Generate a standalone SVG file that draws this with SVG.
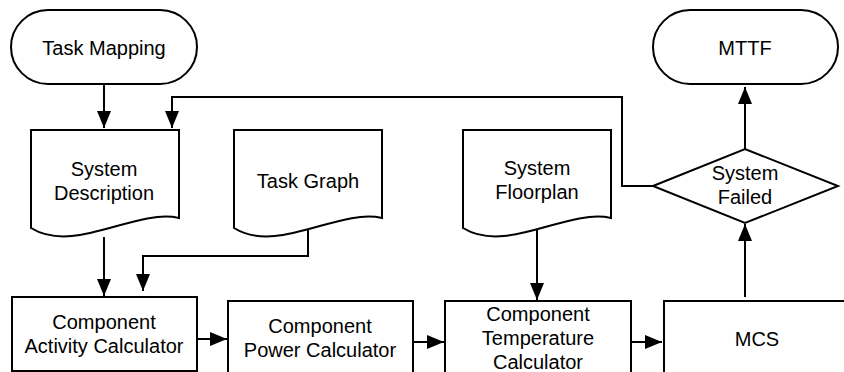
<svg xmlns="http://www.w3.org/2000/svg" width="844" height="372" viewBox="0 0 844 372">
<style>
.s{fill:#fff;stroke:#000;stroke-width:2}
.t{font-family:"Liberation Sans",Arial,Helvetica,sans-serif;font-size:20px;fill:#000;text-anchor:middle}
.c{fill:none;stroke:#000;stroke-width:2;marker-end:url(#ah)}
</style>
<defs>
<marker id="ah" markerUnits="userSpaceOnUse" markerWidth="18" markerHeight="14" refX="17" refY="7" orient="auto">
<path d="M0,0 L17,7 L0,14 z" fill="#000"/>
</marker>
<path id="doc" d="M0,0 H148 V88 C104,78 44,125 0,98 Z"/>
</defs>
<rect width="844" height="372" fill="#fff"/>
<g id="connectors">
<path class="c" d="M104,84 V128"/>
<path class="c" d="M653,186 H622 V97 H172 V128"/>
<path class="c" d="M104,237 V296"/>
<path class="c" d="M308,229 V256 H143 V291"/>
<path class="c" d="M537,230 V300"/>
<path class="c" d="M197,339 H227"/>
<path class="c" d="M413,342 H444"/>
<path class="c" d="M631,342 H662"/>
<path class="c" d="M745,297 V224"/>
<path class="c" d="M745,149 V87"/>
</g>
<g id="task-mapping">
<rect class="s" x="11" y="10" width="186" height="74" rx="37" ry="37"/>
<text class="t" x="104" y="55">Task Mapping</text>
</g>
<g id="mttf">
<rect class="s" x="653" y="10" width="185" height="74" rx="37" ry="37"/>
<text class="t" x="745" y="55">MTTF</text>
</g>
<g id="system-description">
<use href="#doc" class="s" transform="translate(31,130)"/>
<text class="t" x="104" y="176">System</text>
<text class="t" x="104" y="200">Description</text>
</g>
<g id="task-graph">
<use href="#doc" class="s" transform="translate(234,130)"/>
<text class="t" x="308" y="188">Task Graph</text>
</g>
<g id="system-floorplan">
<use href="#doc" class="s" transform="translate(463,130)"/>
<text class="t" x="537" y="175">System</text>
<text class="t" x="537" y="199">Floorplan</text>
</g>
<g id="system-failed">
<path class="s" d="M653,186 L745,149 L838,186 L745,223 Z"/>
<text class="t" x="745" y="180">System</text>
<text class="t" x="745" y="204">Failed</text>
</g>
<g id="activity-calculator">
<rect class="s" x="12" y="297" width="185" height="74"/>
<text class="t" x="104" y="329">Component</text>
<text class="t" x="104" y="353">Activity Calculator</text>
</g>
<g id="power-calculator">
<rect class="s" x="228" y="301" width="185" height="80"/>
<text class="t" x="320" y="333">Component</text>
<text class="t" x="320" y="357">Power Calculator</text>
</g>
<g id="temperature-calculator">
<rect class="s" x="445" y="301" width="186" height="80"/>
<text class="t" x="538" y="321">Component</text>
<text class="t" x="538" y="345">Temperature</text>
<text class="t" x="538" y="369">Calculator</text>
</g>
<g id="mcs">
<rect class="s" x="664" y="301" width="186" height="80"/>
<text class="t" x="757" y="346">MCS</text>
</g>
</svg>
